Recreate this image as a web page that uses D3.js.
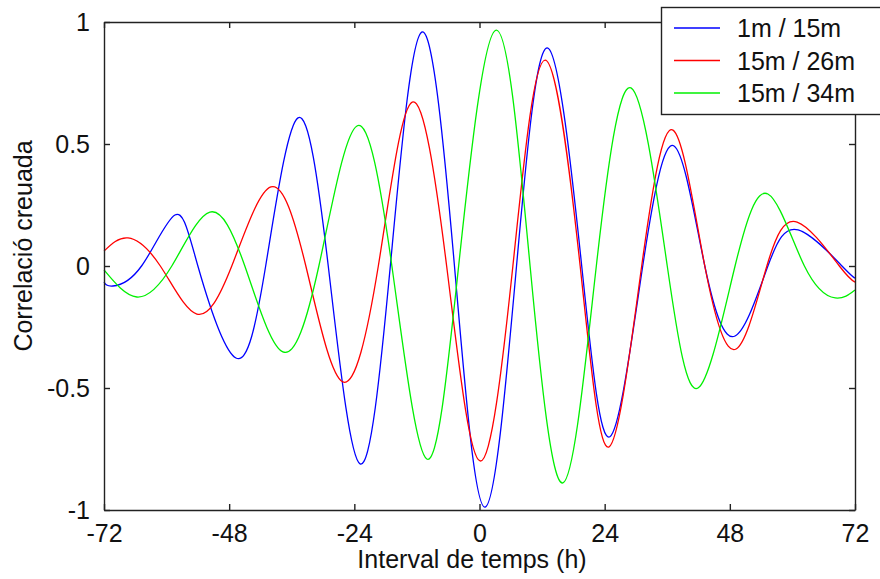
<!DOCTYPE html>
<html>
<head>
<meta charset="utf-8">
<script src="https://cdn.jsdelivr.net/npm/d3@7"></script>
<style>
  html, body { margin: 0; padding: 0; background: #fff; }
  svg { display: block; }
  text { font-family: "Liberation Sans", Arial, sans-serif; fill: #111; }
</style>
</head>
<body>
<svg id="chart" width="880" height="579"></svg>
<script>
// ---- data (hours, correlation) ----
const seriesNames = ["1m / 15m", "15m / 26m", "15m / 34m"];
const seriesColors = ["#0000ff", "#ff0000", "#00f000"];

const blueHours = [-72, -70.3, -64.8, -58.4, -54.0, -46.7, -41.0, -34.8, -29.0, -22.9, -17.1, -11.0, -4.8, 1.05, 7.1, 13.1, 19.6, 25.0, 31.3, 37.3, 43.2, 49.0, 55.3, 61.1, 69.5, 72];
const blueValues = [-0.066, -0.082, 0, 0.209, 0, -0.377, 0, 0.607, 0, -0.811, 0, 0.959, 0, -0.988, 0, 0.893, 0, -0.70, 0, 0.492, 0, -0.287, 0, 0.148, 0, -0.05];

const redHours = [-72, -67.4, -61.2, -54.2, -47.5, -40.0, -33.3, -26.2, -19.4, -12.9, -6.3, 0.1, 6.4, 12.6, 19.3, 24.8, 31.1, 37.1, 43.2, 49.2, 55.1, 60.9, 69.0, 72];
const redValues = [0.061, 0.115, 0, -0.197, 0, 0.324, 0, -0.475, 0, 0.672, 0, -0.799, 0, 0.844, 0, -0.742, 0, 0.557, 0, -0.34, 0, 0.18, 0, -0.066];

const greenHours = [-72, -65.7, -59.0, -51.7, -45.0, -37.7, -30.8, -23.5, -16.8, -10.1, -4.0, 3.2, 9.7, 16.0, 22.4, 29.05, 36.0, 41.9, 49.0, 55.3, 62.3, 68.2, 72];
const greenValues = [-0.016, -0.127, 0, 0.221, 0, -0.352, 0, 0.574, 0, -0.791, 0, 0.967, 0, -0.889, 0, 0.73, 0, -0.5, 0, 0.295, 0, -0.131, -0.098];

const xTicks = [-72, -48, -24, 0, 24, 48, 72];
const yTicks = [-1, -0.5, 0, 0.5, 1];
const xTitle = "Interval de temps (h)";
const yTitle = "Correlació creuada";

// ---- layout ----
const svg = d3.select("#chart");
const mLeft = 104, mTop = 22, mRight = 855, mBottom = 510;
const x = d3.scaleLinear().domain([-72, 72]).range([mLeft, mRight]);
const y = d3.scaleLinear().domain([-1, 1]).range([mBottom, mTop]);

const fs = 25;
const axisColor = "#222";
const tickLen = 6;

// data lines
const series = [
  { hours: blueHours, values: blueValues },
  { hours: redHours, values: redValues },
  { hours: greenHours, values: greenValues }
];
const line = d3.line()
  .x(d => x(d[0]))
  .y(d => y(d[1]))
  .curve(d3.curveNatural);

const plot = svg.append("g");
series.forEach((s, i) => {
  const pts = s.hours.map((h, k) => [h, s.values[k]]);
  plot.append("path")
    .attr("d", line(pts))
    .attr("fill", "none")
    .attr("stroke", seriesColors[i])
    .attr("stroke-width", 1.3);
});

// axes (ticks inward on all four sides)
const fmt = d => String(d);
const axB = d3.axisBottom(x).tickValues(xTicks).tickSizeInner(-tickLen).tickSizeOuter(0).tickPadding(14).tickFormat(fmt);
const axT = d3.axisTop(x).tickValues(xTicks).tickSizeInner(-tickLen).tickSizeOuter(0).tickFormat("");
const axL = d3.axisLeft(y).tickValues(yTicks).tickSizeInner(-tickLen).tickSizeOuter(0).tickPadding(14).tickFormat(fmt);
const axR = d3.axisRight(y).tickValues(yTicks).tickSizeInner(-tickLen).tickSizeOuter(0).tickFormat("");

function style(g) {
  g.selectAll("path.domain").attr("stroke", axisColor).attr("stroke-width", 1.4);
  g.selectAll(".tick line").attr("stroke", axisColor).attr("stroke-width", 1.4);
  g.selectAll(".tick text").style("font-size", fs + "px").attr("fill", "#111")
    .style("font-family", "'Liberation Sans', Arial, sans-serif");
}
svg.append("g").attr("transform", `translate(0,${mBottom})`).call(axB).call(style);
svg.append("g").attr("transform", `translate(0,${mTop})`).call(axT).call(style);
svg.append("g").attr("transform", `translate(${mLeft},0)`).call(axL).call(style);
svg.append("g").attr("transform", `translate(${mRight},0)`).call(axR).call(style);

// axis titles
svg.append("text")
  .attr("x", 472).attr("y", 568)
  .attr("text-anchor", "middle")
  .style("font-size", fs + "px")
  .text(xTitle);
svg.append("text")
  .attr("transform", `translate(32,246) rotate(-90)`)
  .attr("text-anchor", "middle")
  .style("font-size", fs + "px")
  .text(yTitle);

// legend
const lg = svg.append("g");
lg.append("rect")
  .attr("x", 661.5).attr("y", 7.5).attr("width", 230).attr("height", 107)
  .attr("fill", "#fff").attr("stroke", axisColor).attr("stroke-width", 1.4);
seriesNames.forEach((name, i) => {
  const yy = 28 + i * 32.5;
  lg.append("line")
    .attr("x1", 674).attr("x2", 720).attr("y1", yy).attr("y2", yy)
    .attr("stroke", seriesColors[i]).attr("stroke-width", 1.4);
  lg.append("text")
    .attr("x", 737).attr("y", yy + 9)
    .style("font-size", fs + "px")
    .text(name);
});
</script>
</body>
</html>
